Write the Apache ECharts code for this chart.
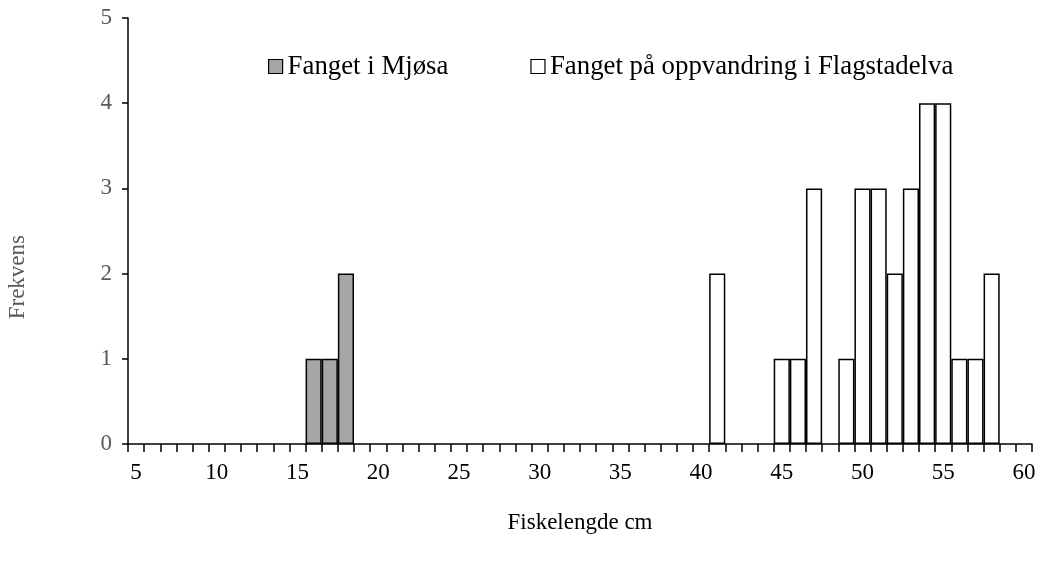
<!DOCTYPE html>
<html>
<head>
<meta charset="utf-8">
<script src="https://cdn.jsdelivr.net/npm/echarts@6/dist/echarts.min.js"></script>
<style>html,body{margin:0;padding:0;background:#fff}#c{width:1049px;height:564px}</style>
</head>
<body>
<div id="c"></div>
<script>
// Fish length categories (cm)
var lengths = [5,6,7,8,9,10,11,12,13,14,15,16,17,18,19,20,21,22,23,24,25,26,27,28,29,30,31,32,33,34,35,36,37,38,39,40,41,42,43,44,45,46,47,48,49,50,51,52,53,54,55,56,57,58,59,60];
// Caught in Mjøsa (counts per length)
var mjosaLengths = [16, 17, 18];
var mjosaCounts  = [1, 1, 2];
// Caught on upstream migration in Flagstadelva
var flagLengths = [41, 45, 46, 47, 49, 50, 51, 52, 53, 54, 55, 56, 57, 58];
var flagCounts  = [2, 1, 1, 3, 1, 3, 3, 2, 3, 4, 4, 1, 1, 2];
var yTicks = [0, 1, 2, 3, 4, 5];

function toSeries(ls, cs) {
  return lengths.map(function (l) {
    var i = ls.indexOf(l);
    return i >= 0 ? cs[i] : null;
  });
}

var font = '"Liberation Serif", "Times New Roman", serif';
var chart = echarts.init(document.getElementById('c'), null, {renderer: 'canvas'});
chart.setOption({
  animation: false,
  backgroundColor: '#fff',
  textStyle: {fontFamily: font},
  grid: {left: 128, right: 17, top: 18, bottom: 120, containLabel: false},
  legend: {
    left: 268, top: 53, padding: 0,
    icon: 'rect', itemWidth: 14, itemHeight: 14, itemGap: 82,
    itemStyle: {borderWidth: 1.2, borderColor: '#000'},
    textStyle: {fontFamily: font, fontSize: 26.8, color: '#000'},
    data: ['Fanget i Mjøsa', 'Fanget på oppvandring i Flagstadelva']
  },
  graphic: [{
    type: 'text',
    left: 6, top: 235,
    rotation: Math.PI / 2,
    style: {text: 'Frekvens', fontFamily: font, fontSize: 23, fill: '#595959'}
  }],
  xAxis: {
    type: 'category',
    data: lengths.map(String),
    name: 'Fiskelengde cm',
    nameLocation: 'middle',
    nameGap: 67,
    nameTextStyle: {fontFamily: font, fontSize: 23, color: '#000'},
    axisLine: {lineStyle: {color: '#000', width: 1.5}},
    axisTick: {show: true, interval: 0, length: 8, inside: false, lineStyle: {color: '#000', width: 1.5}},
    axisLabel: {interval: 4, margin: 17, fontFamily: font, fontSize: 23, color: '#000'},
    splitLine: {show: false}
  },
  yAxis: {
    type: 'value',
    min: 0, max: 5, interval: 1,
    axisLine: {show: true, lineStyle: {color: '#000', width: 1.5}},
    axisTick: {show: true, length: 6, lineStyle: {color: '#000', width: 1.5}},
    axisLabel: {margin: 16, fontFamily: font, fontSize: 23, color: '#595959',
      formatter: function (v) { return yTicks.indexOf(v) >= 0 ? String(v) : ''; }},
    splitLine: {show: false}
  },
  series: [
    {
      name: 'Fanget i Mjøsa',
      type: 'bar',
      data: toSeries(mjosaLengths, mjosaCounts),
      barGap: '-100%',
      barCategoryGap: 0,
      itemStyle: {color: '#a6a6a6', borderColor: '#000', borderWidth: 1.5}
    },
    {
      name: 'Fanget på oppvandring i Flagstadelva',
      type: 'bar',
      data: toSeries(flagLengths, flagCounts),
      barGap: '-100%',
      barCategoryGap: 0,
      itemStyle: {color: '#ffffff', borderColor: '#000', borderWidth: 1.5}
    }
  ]
});
</script>
</body>
</html>
